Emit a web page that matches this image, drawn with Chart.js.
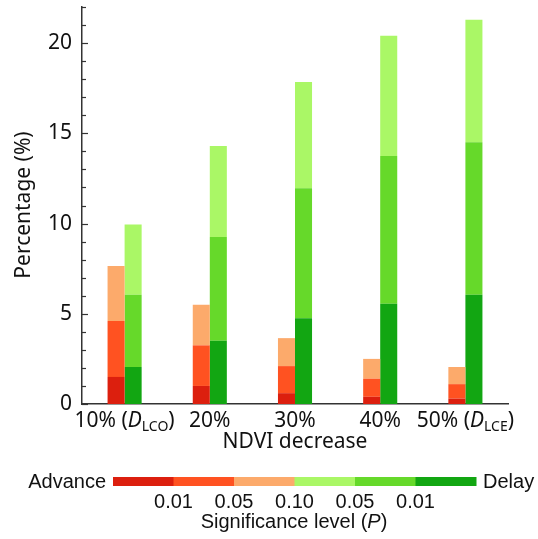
<!DOCTYPE html>
<html lang="en">
<head>
    <meta charset="UTF-8">
    <title>NDVI decrease</title>
    <script src="https://cdn.jsdelivr.net/npm/chart.js"></script>
    <style>
        html, body { margin: 0; padding: 0; background: #fff; }
        #chart { display: block; }
    </style>
</head>
<body>
<canvas id="chart" width="538" height="539"></canvas>

<script>
    // categories on the x axis (main text + italic subscript part)
    const categories = ['10%', '20%', '30%', '40%', '50%'];
    const catSuffix = [['D', 'LCO'], null, null, null, ['D', 'LCE']];

    // segment heights (%)
    const advance01 = [1.5, 1.0, 0.6, 0.4, 0.3];
    const advance05 = [3.1, 2.25, 1.5, 1.0, 0.8];
    const advance10 = [3.05, 2.25, 1.55, 1.1, 0.95];
    const delay01 = [2.05, 3.5, 4.75, 5.55, 6.05];
    const delay05 = [4.0, 5.75, 7.2, 8.2, 8.45];
    const delay10 = [3.9, 5.05, 5.9, 6.65, 6.8];

    // colour bar labels
    const pLabels = ['0.01', '0.05', '0.10', '0.05', '0.01'];
    const yTicks = [0, 5, 10, 15, 20];

    const colors = ['#dc1f0e', '#ff5221', '#fcaa6b', '#aaf766', '#66d92a', '#12a612'];

    const axisFont = '"Noto Sans", "Open Sans", sans-serif';
    const legendFont = '"Liberation Sans", Arial, sans-serif';

    // custom drawing: inward ticks, x labels with subscripts, titles, colour bar
    const extras = {
        id: 'extras',
        afterDraw(chart) {
            const ctx = chart.ctx;
            const x = chart.scales.x, y = chart.scales.y;
            const left = chart.chartArea.left, bottom = chart.chartArea.bottom;
            ctx.save();
            ctx.strokeStyle = '#333';
            ctx.lineWidth = 1.2;
            for (let v = 0; v <= 22; v++) {
                const py = Math.round(y.getPixelForValue(v)) + 0.5;
                const len = yTicks.includes(v) ? 6 : 4;
                ctx.beginPath();
                ctx.moveTo(left, py);
                ctx.lineTo(left + len, py);
                ctx.stroke();
            }

            ctx.fillStyle = '#111';
            ctx.textBaseline = 'alphabetic';
            ctx.textAlign = 'left';
            categories.forEach((c, i) => {
                const cx = x.getPixelForValue(i);
                const parts = [];
                if (catSuffix[i]) {
                    parts.push({t: c + ' (', f: '21px ' + axisFont, dy: 0});
                    parts.push({t: catSuffix[i][0], f: 'italic 21px ' + axisFont, dy: 0});
                    parts.push({t: catSuffix[i][1], f: '14px ' + axisFont, dy: 4});
                    parts.push({t: ')', f: '21px ' + axisFont, dy: 0});
                } else {
                    parts.push({t: c, f: '21px ' + axisFont, dy: 0});
                }
                let w = 0;
                parts.forEach(p => { ctx.font = p.f; p.w = ctx.measureText(p.t).width; w += p.w; });
                let px = cx - w / 2;
                parts.forEach(p => {
                    ctx.font = p.f;
                    ctx.fillText(p.t, px, bottom + 23 + p.dy);
                    px += p.w;
                });
            });

            // axis titles
            ctx.font = '21px ' + axisFont;
            ctx.textAlign = 'center';
            ctx.textBaseline = 'middle';
            ctx.fillText('NDVI decrease', (x.left + x.right) / 2, bottom + 38);
            ctx.save();
            ctx.translate(24, 205);
            ctx.rotate(-Math.PI / 2);
            ctx.fillText('Percentage (%)', 0, 0);
            ctx.restore();

            // colour bar legend
            const barX = 113, barY = 477, segW = 60.5, barH = 9;
            colors.forEach((col, i) => {
                ctx.fillStyle = col;
                ctx.fillRect(barX + i * segW, barY, segW + 0.5, barH);
            });
            ctx.fillStyle = '#111';
            ctx.font = '20px ' + legendFont;
            ctx.textBaseline = 'alphabetic';
            ctx.textAlign = 'right';
            ctx.fillText('Advance', barX - 7, 488);
            ctx.textAlign = 'left';
            ctx.fillText('Delay', barX + 6 * segW + 7, 488);
            ctx.textAlign = 'center';
            pLabels.forEach((l, i) => ctx.fillText(l, barX + (i + 1) * segW, 508));
            const t1 = 'Significance level (', t2 = 'P', t3 = ')';
            ctx.textAlign = 'left';
            const w1 = ctx.measureText(t1).width, w3 = ctx.measureText(t3).width;
            ctx.font = 'italic 20px ' + legendFont;
            const w2 = ctx.measureText(t2).width;
            let sx = 294 - (w1 + w2 + w3) / 2;
            ctx.font = '20px ' + legendFont;
            ctx.fillText(t1, sx, 528);
            ctx.font = 'italic 20px ' + legendFont;
            ctx.fillText(t2, sx + w1, 528);
            ctx.font = '20px ' + legendFont;
            ctx.fillText(t3, sx + w1 + w2, 528);
            ctx.restore();
        }
    };

    const makeSet = (label, data, color, stack) => ({
        label: label, data: data, backgroundColor: color, stack: stack,
        borderWidth: 0, barPercentage: 1.0, categoryPercentage: 0.4
    });

    new Chart(document.getElementById('chart'), {
        type: 'bar',
        data: {
            labels: categories,
            datasets: [
                makeSet('Advance P<0.01', advance01, colors[0], 'adv'),
                makeSet('Advance P<0.05', advance05, colors[1], 'adv'),
                makeSet('Advance P<0.10', advance10, colors[2], 'adv'),
                makeSet('Delay P<0.01', delay01, colors[5], 'del'),
                makeSet('Delay P<0.05', delay05, colors[4], 'del'),
                makeSet('Delay P<0.10', delay10, colors[3], 'del')
            ]
        },
        options: {
            responsive: false,
            animation: false,
            devicePixelRatio: 1,
            layout: { padding: { left: 0, top: 7, right: 30, bottom: 0 } },
            plugins: { legend: { display: false }, tooltip: { enabled: false } },
            scales: {
                x: {
                    stacked: true,
                    ticks: { display: false },
                    grid: { display: false, drawTicks: false },
                    border: { display: true, color: '#333', width: 1.5 },
                    afterFit: s => { s.height = 135; s.paddingLeft = 0; s.paddingRight = 0; }
                },
                y: {
                    stacked: true,
                    min: 0,
                    max: 22,
                    afterBuildTicks: s => { s.ticks = yTicks.map(v => ({ value: v })); },
                    ticks: {
                        color: '#111',
                        padding: 10,
                        font: { family: axisFont, size: 21 }
                    },
                    grid: { display: false, drawTicks: false },
                    border: { display: true, color: '#333', width: 1.5 },
                    afterFit: s => { s.width = 82; s.paddingTop = 0; s.paddingBottom = 0; }
                }
            }
        },
        plugins: [extras]
    });
</script>
</body>
</html>
